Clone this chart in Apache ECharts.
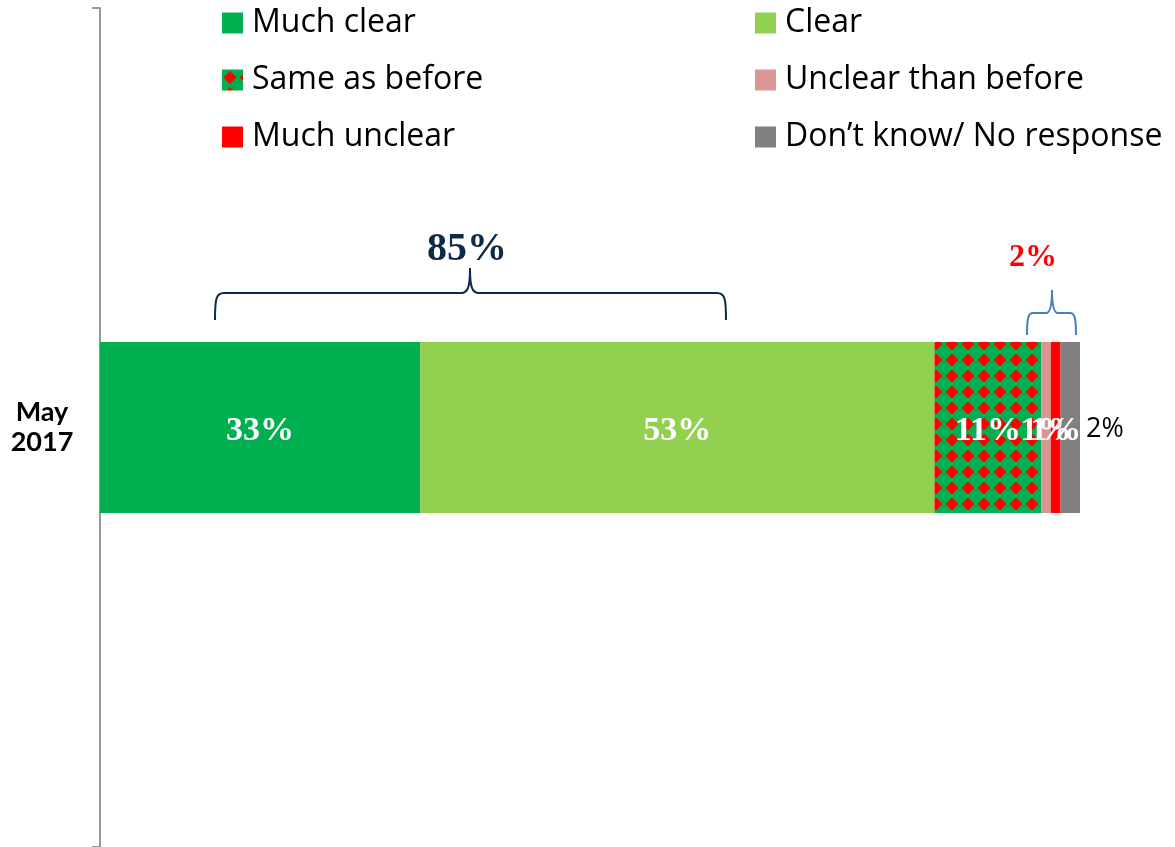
<!DOCTYPE html>
<html>
<head>
<meta charset="utf-8">
<script src="https://cdn.jsdelivr.net/npm/echarts@6/dist/echarts.min.js"></script>
<style>html,body{margin:0;padding:0;background:#fff;}#chart{width:1175px;height:847px;}</style>
</head>
<body>
<div id="chart"></div>
<script>
var categories = ['May\n2017'];
var seriesNames = ['Much clear', 'Clear', 'Same as before', 'Unclear than before', 'Much unclear', 'Don\u2019t know/ No response'];
var muchClear = [33];
var clear = [53];
var sameAsBefore = [11];
var unclearThanBefore = [1];
var muchUnclear = [1];
var dontKnow = [2];
var positiveTotal = '85%';
var negativeTotal = '2%';

// diamond pattern for "Same as before"
var pc = document.createElement('canvas');
pc.width = 16; pc.height = 16;
var pctx = pc.getContext('2d');
pctx.fillStyle = '#00B050';
pctx.fillRect(0, 0, 16, 16);
pctx.fillStyle = '#FF0000';
pctx.beginPath();
pctx.moveTo(8, 1.5); pctx.lineTo(14.5, 8); pctx.lineTo(8, 14.5); pctx.lineTo(1.5, 8); pctx.closePath();
pctx.fill();
var patternFill = { image: pc, repeat: 'repeat' };

var serifBold = { color: '#fff', fontFamily: 'Liberation Serif', fontWeight: 'bold', fontSize: 34, offset: [0, 4] };

function mk(name, data, color, label) {
  return {
    name: name, type: 'bar', stack: 'total', data: data, barWidth: 171,
    itemStyle: { color: color },
    label: Object.assign({ show: true, position: 'inside', formatter: '{c}%' }, serifBold, label || {}),
    emphasis: { disabled: true }
  };
}

// curly brace annotation built from lines and bezier curves
function brace(l, c, r, yBot, yBar, yTip, color, k) {
  var st = { stroke: color, lineWidth: 2, fill: 'none' };
  return [
    { type: 'bezierCurve', shape: { x1: l, y1: yBot, cpx1: l, cpy1: yBar + 6, cpx2: l + 1, cpy2: yBar, x2: l + k, y2: yBar }, style: st },
    { type: 'line', shape: { x1: l + k, y1: yBar, x2: c - k, y2: yBar }, style: st },
    { type: 'bezierCurve', shape: { x1: c - k, y1: yBar, cpx1: c - 2, cpy1: yBar, cpx2: c, cpy2: yBar - 6, x2: c, y2: yTip }, style: st },
    { type: 'bezierCurve', shape: { x1: c, y1: yTip, cpx1: c, cpy1: yBar - 6, cpx2: c + 2, cpy2: yBar, x2: c + k, y2: yBar }, style: st },
    { type: 'line', shape: { x1: c + k, y1: yBar, x2: r - k, y2: yBar }, style: st },
    { type: 'bezierCurve', shape: { x1: r - k, y1: yBar, cpx1: r - 1, cpy1: yBar, cpx2: r, cpy2: yBar + 6, x2: r, y2: yBot }, style: st }
  ];
}

var chart = echarts.init(document.getElementById('chart'));
var graphics = []
  .concat(brace(215, 470, 726, 320, 293, 268, '#0E2A47', 9))
  .concat(brace(1027, 1052, 1076, 335, 313, 290, '#4A7EC4', 6))
  .concat([
    { type: 'text', x: 467, y: 250, style: { text: positiveTotal, fill: '#0E2A47', font: 'bold 40px "Liberation Serif"', textAlign: 'center', textVerticalAlign: 'middle' } },
    { type: 'text', x: 1033, y: 258, style: { text: negativeTotal, fill: '#FF0000', font: 'bold 32px "Liberation Serif"', textAlign: 'center', textVerticalAlign: 'middle' } }
  ]);

var legendText = { fontSize: 32, fontFamily: 'Open Sans', color: '#000', lineHeight: 36, padding: [0, 0, 0, 4] };

chart.setOption({
  animation: false,
  grid: { left: 100, right: 95, top: 8, bottom: 0, containLabel: false },
  legend: [
    {
      data: [seriesNames[0], seriesNames[2], seriesNames[4]],
      orient: 'vertical', left: 222, top: 5, padding: 0, itemWidth: 21, itemHeight: 21, itemGap: 21,
      icon: 'rect', textStyle: legendText
    },
    {
      data: [seriesNames[1], seriesNames[3], seriesNames[5]],
      orient: 'vertical', left: 755, top: 5, padding: 0, itemWidth: 21, itemHeight: 21, itemGap: 21,
      icon: 'rect', textStyle: legendText
    }
  ],
  xAxis: { type: 'value', min: 0, max: 101, show: false },
  yAxis: {
    type: 'category', data: categories,
    axisLine: { show: true, lineStyle: { color: '#999', width: 2 } },
    axisTick: { show: true, length: 8, lineStyle: { color: '#999', width: 2 } },
    axisLabel: { fontFamily: 'Lato', fontWeight: 'bold', fontSize: 27, color: '#000', lineHeight: 30, align: 'center', margin: 58 }
  },
  series: [
    mk(seriesNames[0], muchClear, '#00B050'),
    mk(seriesNames[1], clear, '#92D050'),
    mk(seriesNames[2], sameAsBefore, patternFill),
    mk(seriesNames[3], unclearThanBefore, '#DA9694'),
    mk(seriesNames[4], muchUnclear, '#FF0000'),
    mk(seriesNames[5], dontKnow, '#808080', { position: 'right', color: '#000', fontFamily: 'Open Sans', fontWeight: 'normal', fontSize: 27, distance: 6, offset: [0, 2] })
  ],
  graphic: graphics
});
</script>
</body>
</html>
